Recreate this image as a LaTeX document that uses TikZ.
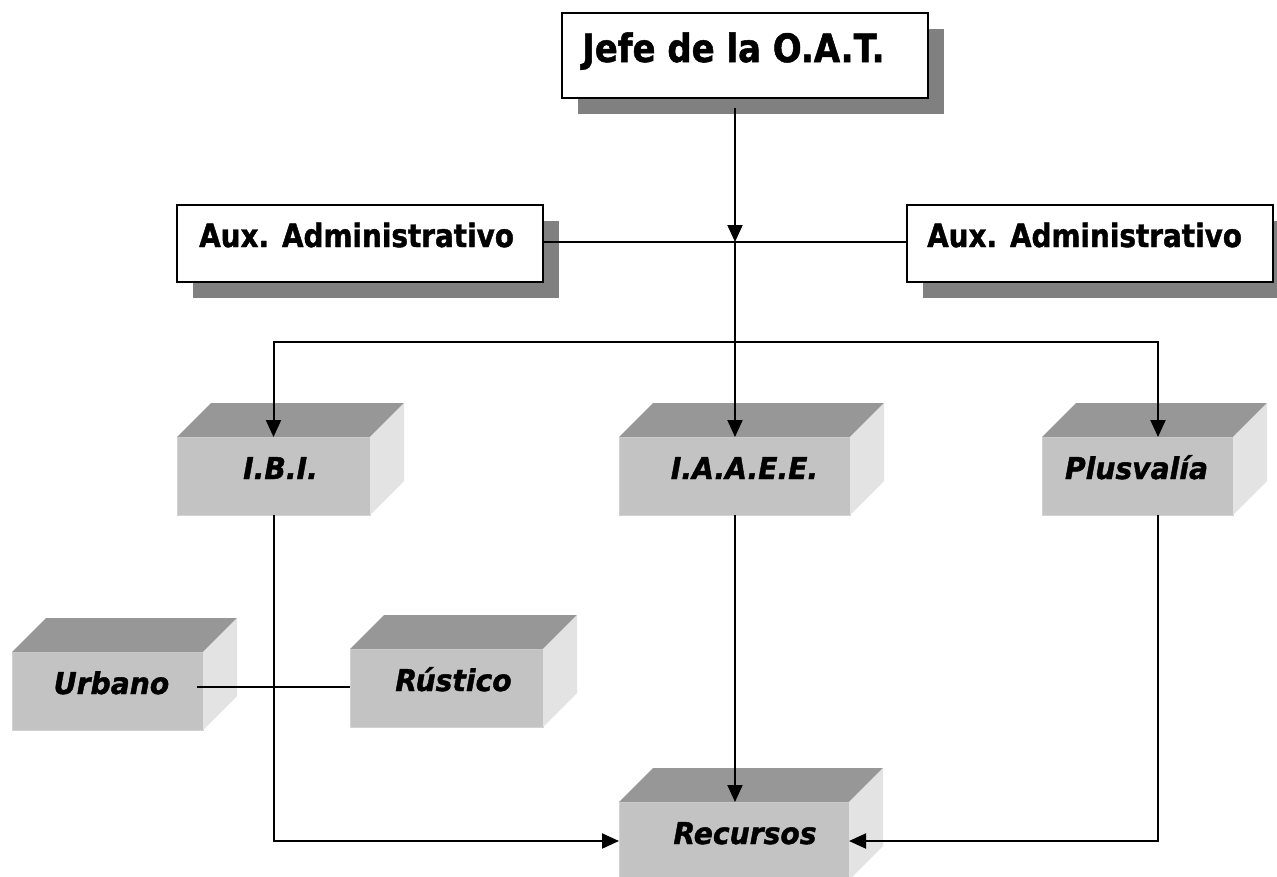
\documentclass[tikz,border=0pt]{standalone}
\usepackage{fontspec}
\usetikzlibrary{arrows.meta,shadows}
\newfontfamily\hdfont{DejaVu Sans}[FakeStretch=0.87,FakeBold=1.3]
\newfontfamily\lbfont{DejaVu Sans}[FakeStretch=0.94,FakeBold=1.3]
\definecolor{frontc}{HTML}{C3C3C3}
\definecolor{frontedge}{HTML}{D2D2D2}
\definecolor{topc}{HTML}{979797}
\definecolor{sidec}{HTML}{E3E3E3}
\definecolor{shadc}{HTML}{808080}
\tikzset{
  orgbox/.style={draw=black, line width=1.8pt, fill=white, anchor=north west,
    inner sep=0pt, outer sep=0pt,
    drop shadow={shadow xshift=16pt, shadow yshift=-16pt, fill=shadc, opacity=1}},
  hdbig/.style={anchor=base west, inner sep=0pt, font=\hdfont\bfseries\fontsize{39}{42}\selectfont},
  hdmid/.style={anchor=base west, inner sep=0pt, font=\hdfont\bfseries\fontsize{32}{34}\selectfont},
  frontface/.style={fill=frontc, draw=frontedge, line width=0.8pt, anchor=north west,
    inner sep=0pt, outer sep=0pt},
  lbl/.style={anchor=base, inner sep=0pt, font=\lbfont\bfseries\itshape\fontsize{30}{32}\selectfont},
  conn/.style={draw=black, line width=2pt},
  >={Triangle[length=17pt,width=15pt]}
}
\newcommand\cubo[7]{%
  \node[frontface, minimum width=#4, minimum height=#5] (#1) at (#2,#3) {};
  \fill[topc] (#1.north west) -- ++(34,-34) -- ++(#4,0) -- (#1.north east) -- cycle;
  \fill[sidec] (#1.north east) -- ++(34,-34) -- ++(0,#5) -- (#1.south east) -- cycle;
  \node[lbl] (#1-t) at ([xshift=#6pt,yshift=-42pt]#1.north) {#7};
}
\begin{document}
\begin{tikzpicture}[x=1pt,y=-1pt]
\useasboundingbox (0,0) rectangle (1277,876);
\fill[white] (0,0) rectangle (1277,876);

% top boxes
\node[orgbox, minimum width=366, minimum height=85] (jefe) at (562,13) {};
\node[hdbig] (jefe-t) at (582,62) {Jefe de la O.A.T.};
\node[orgbox, minimum width=366, minimum height=77] (auxL) at (177,205) {};
\node[hdmid] (auxL-t) at (199,247) {Aux. Administrativo};
\node[orgbox, minimum width=366, minimum height=77] (auxR) at (907,205) {};
\node[hdmid] (auxR-t) at (927,247) {Aux. Administrativo};

% 3D boxes
\cubo{ibi}{177}{437}{193}{78}{7}{I.B.I.}
\cubo{iaaee}{619}{437}{231}{78}{10}{I.A.A.E.E.}
\cubo{plus}{1042}{437}{191}{78}{-1}{Plusvalía}
\cubo{urbano}{12}{652}{191}{78}{4}{Urbano}
\cubo{rustico}{350}{649}{193}{78}{7}{Rústico}
\cubo{recursos}{619}{802}{230}{78}{11}{Recursos}

% coordinates
\coordinate (jtop) at (735,108);
\coordinate (j) at (735,242);
\coordinate (pl) at (1158,342);
\coordinate (ur) at (197,687);

% connectors
\draw[conn,->] (jtop) -- (j);
\draw[conn] (auxL.east |- j) -- (auxR.west |- j);
\draw[conn,->] (j) -- (j |- iaaee.north);
\draw[conn,<->] (ibi.north) |- (pl) -- (pl |- plus.north);
\draw[conn,->] (ibi.south) |- (recursos.west);
\draw[conn,->] (j |- iaaee.south) -- (j |- recursos.north);
\draw[conn,->] (pl |- plus.south) |- (recursos.east);
\draw[conn] (ur) -- (ur -| rustico.west);
\end{tikzpicture}
\end{document}
